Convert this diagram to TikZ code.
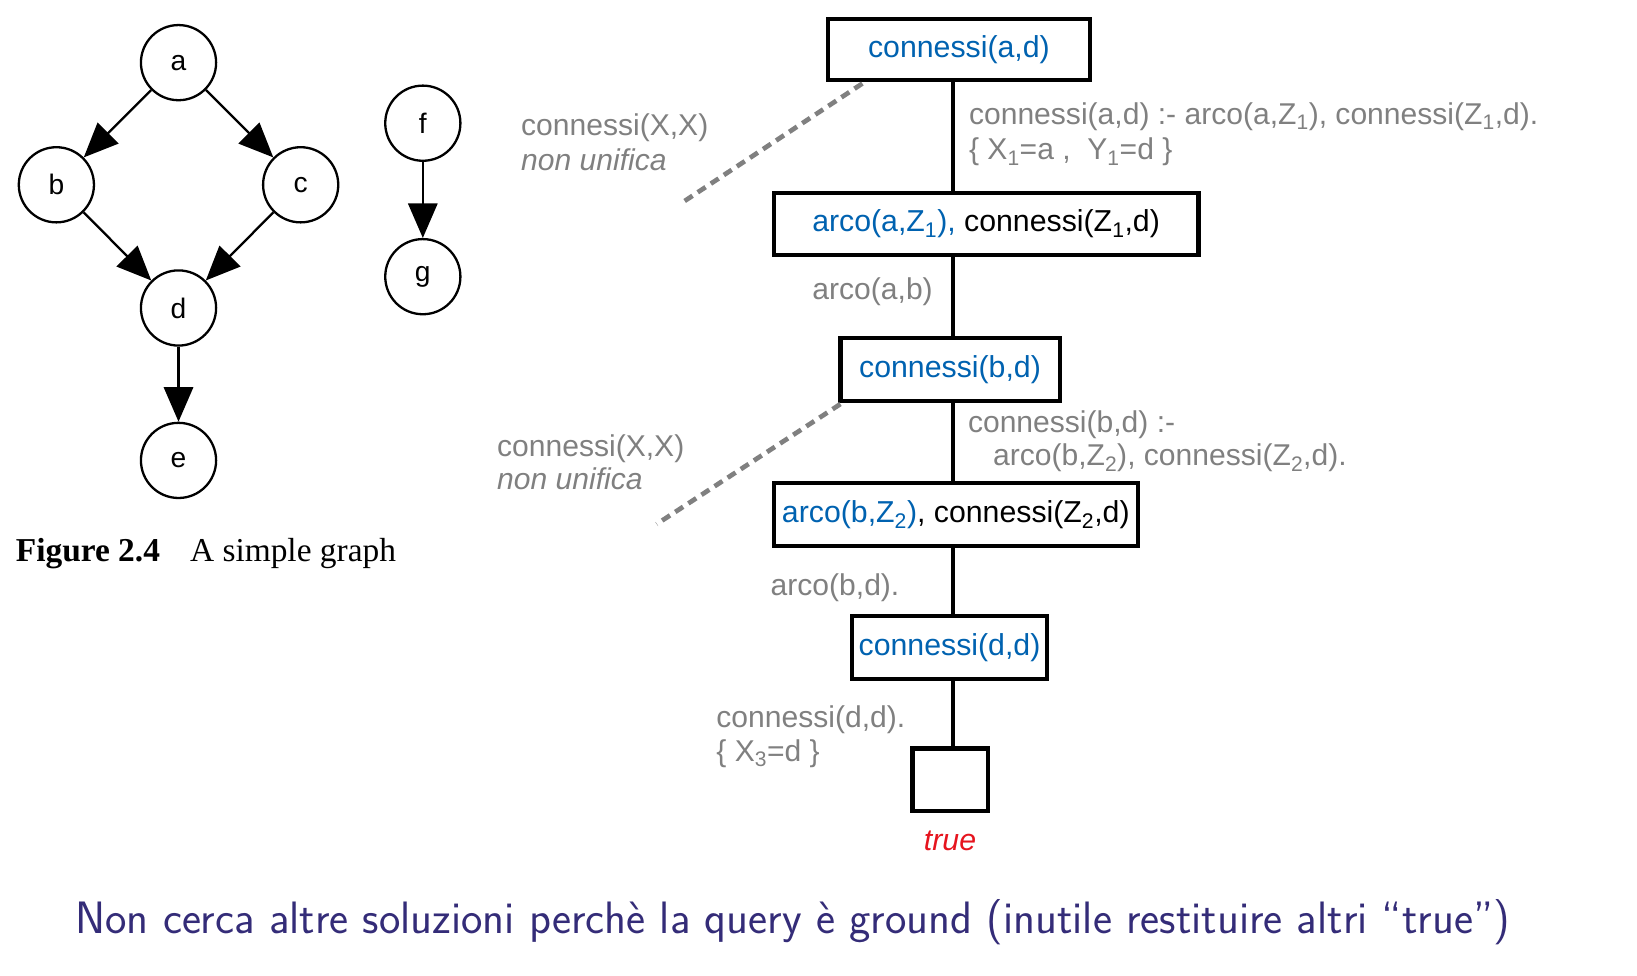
\documentclass[tikz,border=0pt]{standalone}
\usepackage{fontspec}
\setmainfont{Liberation Sans}
\newfontfamily\capfont{Liberation Serif}
\usetikzlibrary{arrows.meta}
\definecolor{qblue}{RGB}{0,98,176}
\definecolor{qgray}{RGB}{128,128,128}
\definecolor{qred}{RGB}{230,20,30}
\definecolor{qpurple}{RGB}{52,44,120}
\begin{document}
\begin{tikzpicture}[x=1pt,y=-1pt,
  gnode/.style={circle,draw,line width=2.2pt,minimum size=72pt,inner sep=0pt,font=\fontsize{27}{30}\selectfont},
  garrow/.style={line width=2.2pt,-{Triangle[length=33pt,width=28pt]}},
  goal/.style={draw,line width=4pt,inner sep=0pt,font=\fontsize{29}{33}\selectfont},
  tline/.style={line width=4pt},
  fail/.style={line width=4.5pt,qgray,dash pattern=on 9pt off 6pt},
  lbl/.style={anchor=base west,inner sep=0pt,text=qgray,font=\fontsize{28.8}{32}\selectfont},
  ilbl/.style={lbl,font=\fontsize{28.8}{32}\selectfont\itshape}]
\useasboundingbox (0,0) rectangle (1568,934);
% left graph
\node[gnode] (a) at (171,60) {a};
\node[gnode] (b) at (54,177) {b};
\node[gnode] (c) at (288,177) {c};
\node[gnode] (d) at (171,295) {d};
\node[gnode] (e) at (171,441) {e};
\node[gnode] (f) at (405,118) {f};
\node[gnode] (g) at (405,265) {g};
\draw[garrow] (a) -- (b);
\draw[garrow] (a) -- (c);
\draw[garrow] (b) -- (d);
\draw[garrow] (c) -- (d);
\draw[garrow] (d) -- (e);
\draw[garrow] (f) -- (g);
\node[anchor=base west,inner sep=0pt,font=\capfont\fontsize{32}{36}\selectfont] (cap) at (15,538) {\textbf{Figure 2.4}\hspace{0.9em}A simple graph};
% tree
\node[goal,minimum width=251pt,minimum height=59pt] (B1) at (918.5,47.5) {\textcolor{qblue}{connessi(a,d)}};
\node[goal,minimum width=407pt,minimum height=59pt] (B2) at (944.5,214.5) {\textcolor{qblue}{arco(a,Z\textsubscript{1}),} connessi(Z\textsubscript{1},d)};
\node[goal,minimum width=210pt,minimum height=60pt] (B3) at (910,354) {\textcolor{qblue}{connessi(b,d)}};
\node[goal,minimum width=349pt,minimum height=60pt] (B4) at (915.5,493) {\textcolor{qblue}{arco(b,Z\textsubscript{2})}, connessi(Z\textsubscript{2},d)};
\node[goal,minimum width=187pt,minimum height=60pt] (B5) at (909.5,620) {\textcolor{qblue}{connessi(d,d)}};
\node[goal,minimum width=72pt,minimum height=60pt] (B6) at (910,747) {};
\coordinate (tx) at (913,0);
\draw[tline] (B1.south -| tx) -- (B2.north -| tx);
\draw[tline] (B2.south -| tx) -- (B3.north -| tx);
\draw[tline] (B3.south -| tx) -- (B4.north -| tx);
\draw[tline] (B4.south -| tx) -- (B5.north -| tx);
\draw[tline] (B5.south -| tx) -- (B6.north -| tx);
\coordinate (f1) at (652,195);
\coordinate (f2) at (629,502);
\draw[fail] ([xshift=35pt,yshift=-1pt]B1.south west) -- (f1);
\draw[fail] ([xshift=2pt,yshift=-1pt]B3.south west) -- (f2);
% labels
\node[lbl] (l1) at (499,130) {connessi(X,X)};
\node[ilbl] (l2) at (499,163) {non unifica};
\node[lbl] (l3) at (928,119) {connessi(a,d) :- arco(a,Z\textsubscript{1}), connessi(Z\textsubscript{1},d).};
\node[lbl] (l4) at (928,153) {\{ X\textsubscript{1}=a ,\ \ Y\textsubscript{1}=d \}};
\node[lbl] (l5) at (778,287) {arco(a,b)};
\node[lbl] (l6) at (927,414) {connessi(b,d) :-};
\node[lbl] (l7) at (951,446) {arco(b,Z\textsubscript{2}), connessi(Z\textsubscript{2},d).};
\node[lbl] (l8) at (476,437) {connessi(X,X)};
\node[ilbl] (l9) at (476,469) {non unifica};
\node[lbl] (l10) at (738,570) {arco(b,d).};
\node[lbl] (l11) at (686,697) {connessi(d,d).};
\node[lbl] (l12) at (686,729) {\{ X\textsubscript{3}=d \}};
\node[anchor=base,inner sep=0pt,text=qred,font=\fontsize{29}{32}\selectfont\itshape] (tr) at (910,815) {true};
\node[anchor=base west,inner sep=0pt,text=qpurple,font=\fontspec{Latin Modern Sans}\fontsize{43.5}{50}\selectfont] (bt) at (72,894) {Non cerca altre soluzioni perchè la query è ground (inutile restituire altri “true”)};
\end{tikzpicture}
\end{document}
